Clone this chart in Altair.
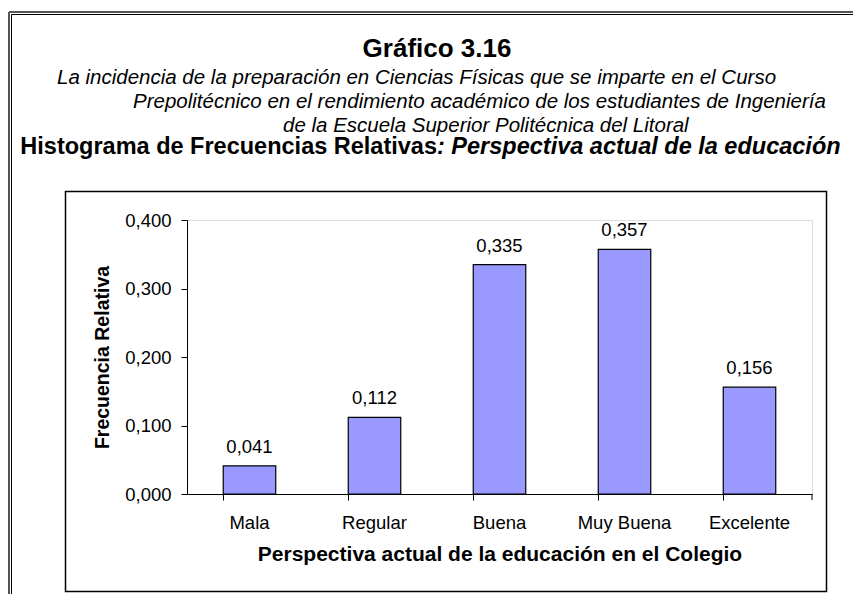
import altair as alt
import pandas as pd

categories = ["Mala", "Regular", "Buena", "Muy Buena", "Excelente"]
values = [0.041, 0.112, 0.335, 0.357, 0.156]
y_ticks = [0.0, 0.1, 0.2, 0.3, 0.4]

title_main = "Gráfico 3.16"
subtitle_lines = [
    "La incidencia de la preparación en Ciencias Físicas que se imparte en el Curso",
    "Prepolitécnico en el rendimiento académico de los estudiantes de Ingeniería",
    "de la Escuela Superior Politécnica del Litoral",
]
hist_part1 = "Histograma de Frecuencias Relativas"
hist_part2 = ": Perspectiva actual de la educación"
x_title = "Perspectiva actual de la educación en el Colegio"
y_title = "Frecuencia Relativa"

df = pd.DataFrame({"cat": categories, "val": values})
df["lab"] = [f"{v:.3f}".replace(".", ",") for v in values]

FONT = "Liberation Sans"
W, H = 625, 274

x_enc = alt.X(
    "cat:N", sort=categories,
    scale=alt.Scale(paddingInner=0.58, paddingOuter=0.29),
    axis=alt.Axis(
        title=x_title, labelAngle=0, labelFont=FONT, labelFontSize=18.5,
        labelColor="#000", titleFont=FONT, titleFontSize=21, titleFontWeight="bold",
        titleColor="#000", tickSize=6, tickColor="#000", domainColor="#000",
        bandPosition=0, labelPadding=13, titlePadding=12,
    ),
)
y_enc = alt.Y(
    "val:Q",
    scale=alt.Scale(domain=[0, 0.4], nice=False),
    axis=alt.Axis(
        title=y_title, values=y_ticks,
        labelExpr="replace(format(datum.value, '.3f'), '.', ',')",
        labelFont=FONT, labelFontSize=18.5, labelColor="#000", labelPadding=10,
        titleFont=FONT, titleFontSize=19.5, titleFontWeight="bold", titleColor="#000",
        titlePadding=12, tickSize=6, tickColor="#000", domainColor="#000", grid=False,
    ),
)

bars = alt.Chart(df).mark_bar(color="#9999FF", stroke="#000", strokeWidth=1.2).encode(
    x=x_enc, y=y_enc
)
labels = alt.Chart(df).mark_text(
    font=FONT, fontSize=18.5, baseline="alphabetic", dy=-13, color="#000"
).encode(x=alt.X("cat:N", sort=categories), y="val:Q", text="lab:N")

one = alt.Data(values=[{"a": 1}])

def rule(x1, y1, x2, y2, color="#000", width=1.0):
    return alt.Chart(one).mark_rule(color=color, strokeWidth=width).encode(
        x=alt.value(x1), y=alt.value(y1), x2=alt.value(x2), y2=alt.value(y2)
    )

def text(s, x, y, size, weight="normal", style="normal", align="left"):
    return alt.Chart(one).mark_text(
        text=s, font=FONT, fontSize=size, fontWeight=weight, fontStyle=style,
        align=align, baseline="alphabetic", color="#000",
    ).encode(x=alt.value(x), y=alt.value(y))

# origin of plot area is page (187, 220)
OX, OY = 187, 220
def px(x):
    return x - OX
def py(y):
    return y - OY

decor = [
    # outer double frame (left and top)
    rule(px(9), py(12), px(9), py(600), "#555", 2),
    rule(px(11.5), py(14.5), px(11.5), py(600), "#000", 1),
    rule(px(9), py(12), px(861), py(12), "#555", 2),
    rule(px(11.5), py(14.5), px(861), py(14.5), "#000", 1),
    # inner chart box
    alt.Chart(one).mark_rect(fill="transparent", stroke="#000", strokeWidth=1.5).encode(
        x=alt.value(px(65.5)), x2=alt.value(px(826.5)),
        y=alt.value(py(191.5)), y2=alt.value(py(591.5)),
    ),
    # end tick of x axis
    rule(W, H, W, H + 6),
    text(title_main, px(437), py(57), 26, weight="bold", align="center"),
    text(subtitle_lines[0], px(57), py(84), 20.5, style="italic"),
    text(subtitle_lines[1], px(133), py(108), 20.5, style="italic"),
    text(subtitle_lines[2], px(283), py(132), 20.5, style="italic"),
    text(hist_part1, px(437), py(154), 23.5, weight="bold", align="right"),
    text(hist_part2, px(437), py(154), 23.5, weight="bold", style="italic"),
]

chart = alt.layer(bars, labels, *decor).properties(
    width=W, height=H,
    autosize=alt.AutoSizeParams(type="none"),
    padding={"left": OX - 8, "top": OY - 8, "right": 845 - (OX - 8) - W, "bottom": 100},
).configure_view(strokeWidth=0).configure(background="white")

chart.save("out.html", embed_options={"renderer": "svg", "actions": False})
